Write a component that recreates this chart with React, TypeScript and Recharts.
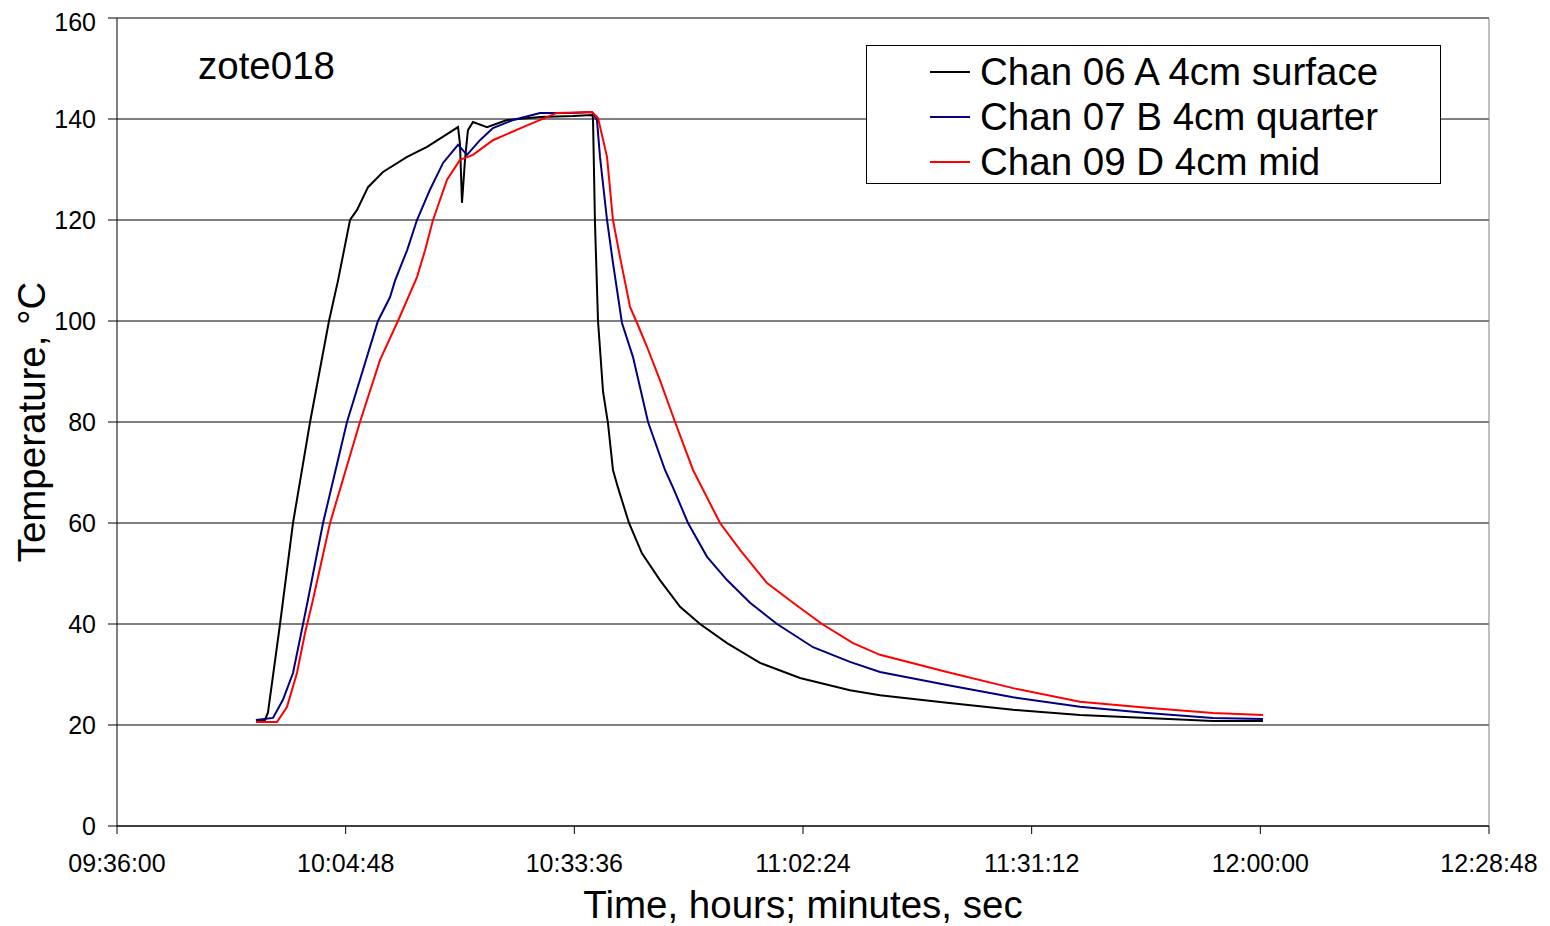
import React from 'react';
import {
  LineChart,
  Line,
  XAxis,
  YAxis,
  CartesianGrid,
  Legend,
  ReferenceLine,
  Label,
} from 'recharts';

const FONT = '"Liberation Sans", Arial, Helvetica, sans-serif';

// Chan 06 A 4cm surface (black)
const chan06Times = [
  '09:53:30', '09:54:38', '09:55:01', '09:56:32', '09:58:10', '10:00:19', '10:02:42', '10:03:50',
  '10:05:21', '10:06:14', '10:07:37', '10:09:30', '10:12:32', '10:15:03', '10:17:34', '10:18:57',
  '10:19:12', '10:19:27', '10:19:50', '10:20:12', '10:20:50', '10:22:36', '10:25:07', '10:29:17',
  '10:33:26', '10:35:50', '10:35:57', '10:36:12', '10:36:35', '10:37:13', '10:37:50', '10:38:28',
  '10:39:06', '10:40:29', '10:42:07', '10:44:23', '10:46:55', '10:49:26', '10:52:50', '10:56:59',
  '11:02:01', '11:08:19', '11:12:06', '11:20:32', '11:28:51', '11:37:17', '11:45:44', '11:54:02',
  '12:00:20',
];
const chan06Temps = [
  21.0, 21.0, 22.5, 40, 60, 80, 100, 108,
  120, 122, 126.5, 129.5, 132.5, 134.5, 137, 138.4,
  135, 123.4, 132, 137.8, 139.4, 138.4, 139.8, 140.4,
  140.6, 140.8, 140.2, 119.4, 100, 86, 79.8, 70.5,
  67, 60, 54, 48.7, 43.4, 40, 36.2, 32.3,
  29.3, 26.9, 25.9, 24.4, 23, 22, 21.4, 20.8,
  20.8,
];

// Chan 07 B 4cm quarter (navy)
const chan07Times = [
  '09:53:30', '09:55:39', '09:56:54', '09:58:10', '09:59:26', '10:00:03', '10:01:57', '10:04:58',
  '10:08:52', '10:10:23', '10:11:01', '10:12:32', '10:13:47', '10:15:25', '10:17:04', '10:18:57',
  '10:20:05', '10:21:43', '10:23:21', '10:25:53', '10:29:17', '10:33:26', '10:35:50', '10:36:27',
  '10:36:50', '10:37:43', '10:38:28', '10:39:36', '10:40:59', '10:42:53', '10:45:01', '10:46:02',
  '10:47:55', '10:50:19', '10:52:50', '10:55:44', '10:59:08', '11:03:40', '11:08:19', '11:12:06',
  '11:20:32', '11:28:51', '11:37:17', '11:45:44', '11:54:02', '12:00:20',
];
const chan07Temps = [
  21, 21.4, 25, 30.3, 40, 44.8, 60, 80,
  100, 104.7, 108, 114, 120, 126, 131.3, 134.9,
  132.9, 135.8, 138.2, 139.8, 141.2, 141.2, 141.4, 139.8,
  132.5, 120, 111.5, 99.6, 92.9, 80, 70.5, 67,
  60, 53.3, 48.7, 44.2, 40, 35.4, 32.5, 30.5,
  27.9, 25.5, 23.6, 22.4, 21.4, 21.2,
];

// Chan 09 D 4cm mid (red)
const chan09Times = [
  '09:53:30', '09:56:09', '09:57:25', '09:58:40', '09:59:41', '10:00:41', '10:02:50', '10:06:36',
  '10:09:08', '10:11:23', '10:13:47', '10:14:48', '10:15:48', '10:17:34', '10:19:12', '10:20:50',
  '10:23:21', '10:27:08', '10:31:25', '10:35:50', '10:36:35', '10:37:43', '10:38:28', '10:39:21',
  '10:40:37', '10:41:30', '10:42:45', '10:44:23', '10:46:17', '10:48:33', '10:51:57', '10:54:28',
  '10:57:52', '11:01:09', '11:04:48', '11:08:42', '11:12:06', '11:20:32', '11:28:51', '11:37:17',
  '11:45:44', '11:54:02', '12:00:20',
];
const chan09Temps = [
  20.6, 20.6, 23.6, 30.3, 38.2, 44.8, 60, 80,
  92.3, 100, 108.7, 114, 120, 128, 131.9, 132.9,
  135.8, 138.4, 141.2, 141.4, 140.2, 132.5, 120, 112.7,
  102.8, 99.6, 94.9, 88.3, 80, 70.5, 60, 54.7,
  48.1, 44.2, 40, 36.2, 33.9, 30.5, 27.3, 24.6,
  23.4, 22.4, 22,
];

const xTickLabels = ['09:36:00', '10:04:48', '10:33:36', '11:02:24', '11:31:12', '12:00:00', '12:28:48'];
const yTicks = [0, 20, 40, 60, 80, 100, 120, 140, 160];

const toSec = (s: string) => {
  const [h, m, sec] = s.split(':').map(Number);
  return h * 3600 + m * 60 + sec;
};
const pad = (n: number) => String(n).padStart(2, '0');
const fmtTime = (v: number) =>
  `${pad(Math.floor(v / 3600))}:${pad(Math.floor((v % 3600) / 60))}:${pad(Math.round(v % 60))}`;

const build = (times: string[], temps: number[]) =>
  times.map((t, i) => ({ t: toSec(t), temp: temps[i] }));

const series = [
  { name: 'Chan 06 A 4cm surface', color: '#000000', data: build(chan06Times, chan06Temps) },
  { name: 'Chan 07 B 4cm quarter', color: '#000080', data: build(chan07Times, chan07Temps) },
  { name: 'Chan 09 D 4cm mid', color: '#FF0000', data: build(chan09Times, chan09Temps) },
];

const xTicks = xTickLabels.map(toSec);

const TITLE_SIZE = 38.5;
const TICK_SIZE = 25;

const renderLegend = () => (
  <div
    style={{
      width: 575,
      height: 139,
      boxSizing: 'border-box',
      border: '1px solid #000',
      background: '#fff',
      paddingTop: 3,
    }}
  >
    {series.map((s) => (
      <div key={s.name} style={{ display: 'flex', alignItems: 'center', height: 45 }}>
        <span
          style={{ display: 'inline-block', width: 40, height: 2, background: s.color, marginLeft: 63, marginRight: 10 }}
        />
        <span style={{ fontSize: TITLE_SIZE, fontFamily: FONT, color: '#000', lineHeight: '45px', whiteSpace: 'nowrap' }}>
          {s.name}
        </span>
      </div>
    ))}
  </div>
);

export default function App() {
  return (
    <div style={{ position: 'relative', width: 1542, height: 918, background: '#fff', fontFamily: FONT }}>
      <LineChart width={1542} height={918} margin={{ top: 10, right: 61, bottom: 0, left: 0 }}>
        <CartesianGrid vertical={false} stroke="#000" strokeWidth={1} />
        <XAxis
          type="number"
          dataKey="t"
          domain={[xTicks[0], xTicks[xTicks.length - 1]]}
          ticks={xTicks}
          tickFormatter={fmtTime}
          height={100}
          tickSize={8}
          tickMargin={20}
          stroke="#000"
          tick={{ fill: '#000', fontSize: TICK_SIZE, fontFamily: FONT }}
          allowDataOverflow
        >
          <Label
            content={(props: any) => {
              const vb = props.viewBox;
              return (
                <text
                  x={vb.x + vb.width / 2}
                  y={vb.y + 92}
                  textAnchor="middle"
                  fontSize={TITLE_SIZE}
                  fontFamily={FONT}
                  fill="#000"
                >
                  Time, hours; minutes, sec
                </text>
              );
            }}
          />
        </XAxis>
        <YAxis
          type="number"
          domain={[0, 160]}
          ticks={yTicks}
          width={109}
          tickSize={9}
          tickMargin={12}
          stroke="#000"
          tick={{ fill: '#000', fontSize: TICK_SIZE, fontFamily: FONT }}
        >
          <Label
            content={(props: any) => {
              const vb = props.viewBox;
              const cy = vb.y + vb.height / 2;
              return (
                <text
                  x={37}
                  y={cy}
                  transform={`rotate(-90, 37, ${cy})`}
                  textAnchor="middle"
                  fontSize={TITLE_SIZE}
                  fontFamily={FONT}
                  fill="#000"
                >
                  Temperature, °C
                </text>
              );
            }}
          />
        </YAxis>
        <ReferenceLine x={xTicks[xTicks.length - 1]} stroke="#808080" strokeWidth={1} />
        <ReferenceLine y={160} stroke="#808080" strokeWidth={1} />
        {series.map((s) => (
          <Line
            key={s.name}
            data={s.data}
            dataKey="temp"
            name={s.name}
            type="linear"
            stroke={s.color}
            strokeWidth={2}
            dot={false}
            isAnimationActive={false}
          />
        ))}
        <Legend
          layout="vertical"
          align="center"
          verticalAlign="middle"
          content={renderLegend}
          wrapperStyle={{ left: 858, top: 37, width: 575, height: 139 }}
        />
      </LineChart>
      <div
        style={{
          position: 'absolute',
          left: 190,
          top: 37,
          fontSize: TITLE_SIZE,
          lineHeight: '42px',
          fontFamily: FONT,
          color: '#000',
        }}
      >
        zote018
      </div>
    </div>
  );
}
